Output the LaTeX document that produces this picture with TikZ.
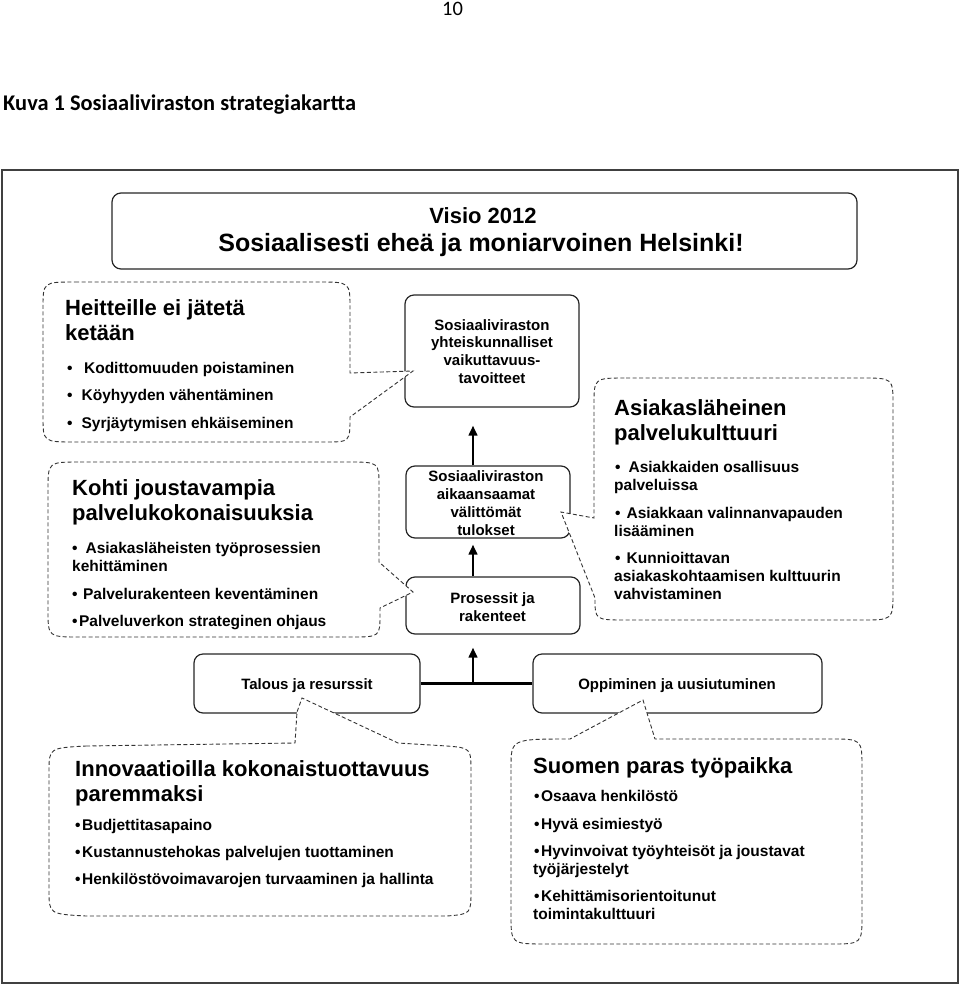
\documentclass[tikz,border=0pt]{standalone}
\usepackage{fontspec}
\setmainfont{Liberation Sans}
\newfontfamily\carlito{Carlito}
\usetikzlibrary{arrows.meta}
\begin{document}
\begin{tikzpicture}[x=1pt,y=-1pt,
  box/.style={draw=black!85, line width=1.2pt, rounded corners=9pt, fill=white, inner sep=0pt},
  callout/.style={draw=black!80, line width=0.9pt, dash pattern=on 4pt off 2.5pt, fill=white},
  arr/.style={line width=2.6pt, -{Triangle[length=10pt,width=8.5pt]}},
  tl/.style={anchor=base west, font=\bfseries\fontsize{22}{24}\selectfont, inner sep=0pt},
  bt/.style={anchor=base west, font=\bfseries\fontsize{15.5}{18}\selectfont, inner sep=0pt},
  ct/.style={anchor=base, font=\bfseries\fontsize{15}{18}\selectfont, inner sep=0pt},
]
\useasboundingbox (0,0) rectangle (960,985);
% header
\node[anchor=base, inner sep=0pt, font=\carlito\fontsize{20.5}{22}\selectfont] (pg) at (452.5,16) {10};
\node[anchor=base west, inner sep=0pt, font=\carlito\bfseries\fontsize{22.4}{24}\selectfont] (cap) at (3,110) {Kuva 1 Sosiaaliviraston strategiakartta};
% frame
\draw[draw=black!75, line width=1.5pt] (2,170) rectangle (958,983);
% boxes
\node[box, minimum width=745pt, minimum height=76pt] (V) at (484.5,231) {};
\node[box, minimum width=174pt, minimum height=112pt] (A) at (492,351) {};
\node[box, minimum width=164pt, minimum height=72pt] (B) at (488,502) {};
\node[box, minimum width=174pt, minimum height=57pt] (C) at (493,605.5) {};
\node[box, minimum width=226pt, minimum height=59pt] (T) at (307,683.5) {};
\node[box, minimum width=289pt, minimum height=59pt] (O) at (677.5,683.5) {};
% callouts
\path[callout] (75,282) -- (318,282) .. controls (350,282) .. (350,308) -- (350,373) -- (413,371) -- (350,417) .. controls (350,442) .. (325,442) -- (75,442) .. controls (43,442) .. (43,416) -- (43,308) .. controls (43,282) .. (75,282) -- cycle;
\path[callout] (80,462) -- (347,462) .. controls (379,462) .. (379,486) -- (379,562) -- (413,592) -- (380,608) -- (380,614) .. controls (380,637) .. (350,637) -- (80,637) .. controls (48,637) .. (48,610) -- (48,490) .. controls (48,462) .. (80,462) -- cycle;
\path[callout] (626,378) -- (861,378) .. controls (893,378) .. (893,405) -- (893,592) .. controls (893,620) .. (861,620) -- (626,620) .. controls (595,620) .. (595,598) -- (561,512) -- (594,518) -- (594,405) .. controls (594,378) .. (626,378) -- cycle;
\path[callout] (86,746) -- (295,743) -- (297,712) -- (302,698) -- (398,743) -- (447,746) .. controls (471,748) .. (471,773) -- (471,890) .. controls (471,914) .. (447,916) -- (86,916) .. controls (49,914) .. (49,890) -- (49,772) .. controls (49,748) .. (86,746) -- cycle;
\path[callout] (511,768) .. controls (511,739) .. (570,739) -- (643,700) -- (655,739) -- (830,739) .. controls (862,739) .. (862,768) -- (862,915) .. controls (862,944) .. (830,944) -- (547,944) .. controls (511,944) .. (511,915) -- cycle;
% connectors
\coordinate (j) at (473,683.5);
\draw[line width=2.6pt] (T.east) -- (O.west);
\draw[arr, shorten >=13pt] (j) -- (j |- C.south);
\draw[arr, shorten >=6pt] (j |- C.north) -- (j |- B.south);
\draw[arr, shorten >=18pt] (j |- B.north) -- (j |- A.south);
% vision text
\node[anchor=base, inner sep=0pt, font=\bfseries\fontsize{22}{24}\selectfont] (v1) at (483,223) {Visio 2012};
\node[anchor=base, inner sep=0pt, font=\bfseries\fontsize{25}{28}\selectfont] (v2) at (481,251.7) {Sosiaalisesti eheä ja moniarvoinen Helsinki!};
% centre box texts
\node[ct] (a1) at (492,330) {Sosiaaliviraston};
\node[ct] (a2) at (492,347.3) {yhteiskunnalliset};
\node[ct] (a3) at (492,365) {vaikuttavuus-};
\node[ct] (a4) at (492,383.3) {tavoitteet};
\node[ct] (b1) at (486,481) {Sosiaaliviraston};
\node[ct] (b2) at (486,499.3) {aikaansaamat};
\node[ct] (b3) at (486,517.3) {välittömät};
\node[ct] (b4) at (486,535.5) {tulokset};
\node[ct] (c1) at (492.5,603.3) {Prosessit ja};
\node[ct] (c2) at (492.5,621.7) {rakenteet};
\node[ct] (t1) at (307,689.3) {Talous ja resurssit};
\node[ct] (o1) at (677,689.3) {Oppiminen ja uusiutuminen};
% callout 1
\node[tl] (h1) at (65,315) {Heitteille ei jätetä};
\node[tl] (h2) at (65,340) {ketään};
\node[bt] (h3) at (67,373.3) {•\hspace{11.5pt}Kodittomuuden poistaminen};
\node[bt] (h4) at (67,400.7) {•\hspace{9pt}Köyhyyden vähentäminen};
\node[bt] (h5) at (67,428.3) {•\hspace{9pt}Syrjäytymisen ehkäiseminen};
% callout 2
\node[tl] (k1) at (72,495) {Kohti joustavampia};
\node[tl] (k2) at (72,520) {palvelukokonaisuuksia};
\node[bt] (k3) at (72,553.3) {•\hspace{8pt}Asiakasläheisten työprosessien};
\node[bt] (k4) at (72,571.7) {kehittäminen};
\node[bt] (k5) at (72,599.3) {•\hspace{5.5pt}Palvelurakenteen keventäminen};
\node[bt] (k6) at (72,626) {•\hspace{1.5pt}Palveluverkon strateginen ohjaus};
% callout right
\node[tl] (r1) at (614,415) {Asiakasläheinen};
\node[tl] (r2) at (614,440) {palvelukulttuuri};
\node[bt] (r3) at (615,472.7) {•\hspace{8pt}Asiakkaiden osallisuus};
\node[bt] (r4) at (614,490.7) {palveluissa};
\node[bt] (r5) at (615,518.3) {•\hspace{6pt}Asiakkaan valinnanvapauden};
\node[bt] (r6) at (614,536.7) {lisääminen};
\node[bt] (r7) at (615,563.3) {•\hspace{6pt}Kunnioittavan};
\node[bt] (r8) at (614,581.7) {asiakaskohtaamisen kulttuurin};
\node[bt] (r9) at (614,599.3) {vahvistaminen};
% callout bottom left
\node[tl] (i1) at (75,776.7) {Innovaatioilla kokonaistuottavuus};
\node[tl] (i2) at (75,801.7) {paremmaksi};
\node[bt] (i3) at (75,830) {•\hspace{1.5pt}Budjettitasapaino};
\node[bt] (i4) at (75,857.3) {•\hspace{1.5pt}Kustannustehokas palvelujen tuottaminen};
\node[bt] (i5) at (75,884) {•\hspace{1.5pt}Henkilöstövoimavarojen turvaaminen ja hallinta};
% callout bottom right
\node[tl] (s1) at (533,773.3) {Suomen paras työpaikka};
\node[bt] (s2) at (534,801.7) {•\hspace{1.5pt}Osaava henkilöstö};
\node[bt] (s3) at (534,829) {•\hspace{1.5pt}Hyvä esimiestyö};
\node[bt] (s4) at (534,856) {•\hspace{1.5pt}Hyvinvoivat työyhteisöt ja joustavat};
\node[bt] (s5) at (533,874.3) {työjärjestelyt};
\node[bt] (s6) at (534,901) {•\hspace{1.5pt}Kehittämisorientoitunut};
\node[bt] (s7) at (533,919.3) {toimintakulttuuri};
\end{tikzpicture}
\end{document}
